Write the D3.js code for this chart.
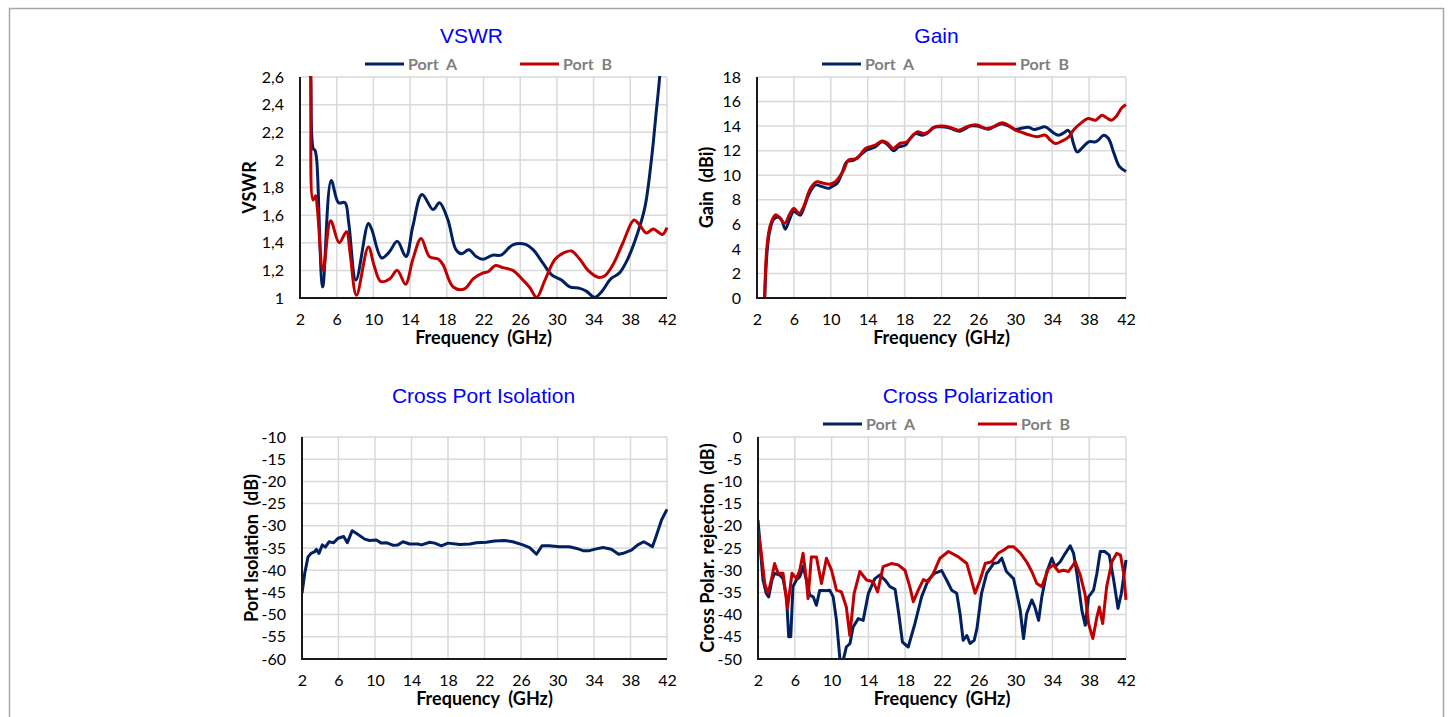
<!DOCTYPE html>
<html>
<head>
<meta charset="utf-8">
<script src="https://cdn.jsdelivr.net/npm/d3@7"></script>
<style>
  body { margin: 0; background: #fff; }
  svg text { white-space: pre; }
</style>
</head>
<body>
<div id="chart"></div>
<script>
/* Antenna measurement charts - VSWR, Gain, Isolation, Cross-pol */

// --- data, [frequency GHz, value] ---
var freqTicks = [2, 6, 10, 14, 18, 22, 26, 30, 34, 38, 42];
var vswrTicks = [1, 1.2, 1.4, 1.6, 1.8, 2, 2.2, 2.4, 2.6];
var gainTicks = [0, 2, 4, 6, 8, 10, 12, 14, 16, 18];
var isoTicks = [-60, -55, -50, -45, -40, -35, -30, -25, -20, -15, -10];
var xpolTicks = [-50, -45, -40, -35, -30, -25, -20, -15, -10, -5, 0];
var legendNames = ["Port  A", "Port  B"];

var vswrPortA = [
  [2.9, 3.4], [3.17, 2.6], [3.45, 2.08], [3.63, 2.07], [3.82, 2.0], [4.47, 1.08],
  [5.4, 1.85], [6.2, 1.69], [6.9, 1.69], [7.3, 1.55], [8.1, 1.13], [9.45, 1.54],
  [9.8, 1.5], [10.9, 1.29], [11.7, 1.33], [12.6, 1.41], [13.55, 1.3], [14.3, 1.52],
  [15.3, 1.75], [16.5, 1.64], [17.2, 1.69], [18.1, 1.57], [19.0, 1.35], [19.6, 1.32],
  [20.4, 1.35], [21.2, 1.3], [21.9, 1.28], [23.0, 1.31], [23.9, 1.31], [25.2, 1.385],
  [26.5, 1.39], [27.4, 1.35], [28.5, 1.25], [29.4, 1.17], [30.5, 1.13], [31.4, 1.08],
  [32.5, 1.07], [33.2, 1.05], [34.1, 1.005], [34.8, 1.04], [35.9, 1.14], [36.8, 1.18],
  [37.7, 1.28], [38.7, 1.45], [39.6, 1.66], [40.3, 2.0], [40.8, 2.33], [41.2, 2.6],
  [41.5, 2.9]
];
var vswrPortB = [
  [2.9, 3.4], [3.17, 2.6], [3.42, 1.71], [3.7, 1.74], [3.9, 1.64], [4.52, 1.2],
  [5.34, 1.56], [6.27, 1.4], [7.07, 1.48], [7.45, 1.33], [8.15, 1.02], [9.45, 1.37],
  [10.1, 1.23], [10.8, 1.12], [11.8, 1.14], [12.6, 1.2], [13.5, 1.1], [14.3, 1.28],
  [15.2, 1.43], [16.1, 1.3], [17.1, 1.28], [17.6, 1.24], [18.7, 1.08], [19.9, 1.065],
  [20.9, 1.14], [21.9, 1.18], [22.5, 1.19], [23.3, 1.235], [24.1, 1.22], [25.2, 1.2],
  [26.3, 1.13], [27.0, 1.08], [27.8, 1.005], [28.7, 1.13], [29.8, 1.28], [30.85, 1.33],
  [31.6, 1.34], [32.5, 1.28], [33.4, 1.2], [34.5, 1.15], [35.2, 1.16], [36.1, 1.24],
  [37.2, 1.4], [38.4, 1.565], [39.0, 1.53], [39.75, 1.47], [40.5, 1.5], [41.0, 1.48],
  [41.5, 1.46], [42.0, 1.51]
];

var gainPortA = [
  [2.83, 0], [3.08, 3.65], [3.34, 5.3], [3.8, 6.4], [4.28, 6.6], [4.64, 6.4],
  [5.07, 5.6], [5.5, 6.35], [5.97, 7.05], [6.34, 6.9], [6.7, 6.75], [7.06, 7.3],
  [7.6, 8.4], [8.32, 9.2], [9.05, 9.07], [9.77, 8.93], [10.1, 9.07], [10.7, 9.35],
  [11.2, 10.15], [11.75, 11.1], [12.5, 11.23], [13.2, 11.64], [13.9, 12.05], [14.8, 12.3],
  [15.55, 12.72], [16.1, 12.53], [16.8, 12.0], [17.35, 12.3], [18.1, 12.45], [18.6, 13.0],
  [19.2, 13.4], [19.9, 13.26], [20.4, 13.4], [21.15, 13.9], [21.9, 13.94], [22.8, 13.86],
  [23.5, 13.67], [24.0, 13.59], [24.6, 13.8], [25.1, 14.0], [25.85, 14.0], [26.4, 13.9],
  [27.1, 13.75], [27.65, 13.94], [28.55, 14.2], [29.3, 14.0], [30.0, 13.73], [30.55, 13.8],
  [31.45, 13.9], [32.0, 13.73], [32.5, 13.8], [33.25, 13.94], [34.0, 13.53], [34.7, 13.26],
  [35.25, 13.45], [35.7, 13.67], [36.0, 13.4], [36.3, 12.59], [36.7, 11.9], [37.2, 12.18],
  [37.95, 12.72], [38.7, 12.72], [39.0, 12.86], [39.6, 13.26], [40.1, 12.99], [40.7, 11.78],
  [41.3, 10.7], [42.0, 10.3]
];
var gainPortB = [
  [2.83, 0], [3.08, 4.2], [3.45, 5.95], [4.0, 6.77], [4.35, 6.63], [5.0, 6.09],
  [5.5, 6.77], [5.97, 7.3], [6.6, 6.9], [7.06, 7.44], [7.8, 8.93], [8.5, 9.47],
  [9.2, 9.34], [9.95, 9.28], [10.5, 9.47], [11.4, 10.42], [11.9, 11.23], [12.85, 11.37],
  [13.75, 12.18], [14.8, 12.45], [15.55, 12.78], [16.1, 12.64], [16.75, 12.18], [17.5, 12.59],
  [18.25, 12.72], [18.8, 13.13], [19.35, 13.53], [20.1, 13.4], [20.6, 13.53], [21.3, 13.94],
  [22.05, 14.0], [22.95, 13.9], [23.85, 13.67], [24.6, 13.9], [25.3, 14.08], [25.95, 14.08],
  [26.75, 13.8], [27.5, 13.9], [28.55, 14.27], [29.5, 13.94], [30.0, 13.67], [30.55, 13.53],
  [31.45, 13.3], [32.35, 13.13], [33.25, 13.26], [33.8, 12.86], [34.35, 12.59], [35.05, 12.78],
  [35.8, 13.13], [36.3, 13.67], [37.05, 14.2], [37.9, 14.62], [38.7, 14.48], [39.4, 14.89],
  [39.85, 14.7], [40.4, 14.48], [40.9, 14.75], [41.55, 15.5], [42.0, 15.75]
];

var isolation = [
  [2.0, -45.2], [2.3, -40.7], [2.66, -37.0], [3.0, -36.2], [3.4, -35.8], [3.57, -35.3],
  [3.86, -36.2], [4.23, -34.3], [4.56, -34.8], [4.96, -33.6], [5.47, -33.8], [5.95, -32.8],
  [6.57, -32.4], [6.97, -33.8], [7.5, -31.1], [7.95, -31.7], [8.87, -33.0], [9.4, -33.3],
  [10.15, -33.2], [10.7, -33.9], [11.25, -33.8], [12.0, -34.4], [12.5, -34.3], [13.07, -33.6],
  [13.8, -34.1], [14.7, -34.1], [15.1, -34.3], [16.0, -33.7], [16.54, -33.9], [17.27, -34.5],
  [18.0, -33.9], [19.3, -34.2], [20.4, -34.1], [21.1, -33.8], [22.2, -33.7], [23.1, -33.4],
  [24.2, -33.3], [25.1, -33.6], [26.2, -34.3], [26.95, -34.9], [27.7, -36.4], [28.3, -34.5],
  [29.1, -34.5], [30.2, -34.7], [31.3, -34.7], [32.1, -35.1], [32.8, -35.6], [33.5, -35.6],
  [34.25, -35.2], [35.0, -34.9], [35.9, -35.3], [36.7, -36.4], [37.2, -36.2], [38.1, -35.5],
  [38.8, -34.3], [39.45, -33.6], [39.9, -34.1], [40.4, -34.7], [40.8, -32.4], [41.4, -28.7],
  [42.0, -26.3]
];

var xpolPortA = [
  [2.0, -18.7], [2.18, -23.2], [2.54, -32.2], [2.9, -35.2], [3.16, -36.0], [3.52, -32.2],
  [3.8, -30.7], [4.36, -31.1], [4.72, -31.9], [5.1, -36.0], [5.34, -45.0], [5.56, -45.0],
  [5.8, -33.7], [6.17, -32.2], [6.54, -31.5], [6.9, -29.2], [7.26, -32.2], [7.63, -35.6],
  [8.0, -36.0], [8.35, -37.9], [8.7, -34.6], [9.26, -34.6], [9.8, -34.5], [10.17, -36.0],
  [10.53, -41.3], [10.9, -49.9], [11.26, -50.3], [11.6, -47.3], [12.0, -46.5], [12.34, -42.8],
  [12.9, -40.9], [13.43, -41.3], [14.0, -35.2], [14.7, -31.9], [15.25, -31.1], [15.8, -32.2],
  [16.34, -33.7], [16.9, -34.3], [17.3, -39.8], [17.7, -46.2], [18.33, -47.3], [19.06, -42.0],
  [19.78, -36.0], [20.5, -32.2], [21.2, -30.7], [21.96, -30.1], [22.5, -32.2], [23.05, -34.5],
  [23.6, -35.2], [23.96, -39.8], [24.3, -45.8], [24.7, -44.7], [25.05, -46.5], [25.5, -45.8],
  [25.8, -43.1], [26.3, -35.2], [26.86, -30.7], [27.6, -28.5], [28.1, -28.3], [28.5, -27.3],
  [29.0, -30.3], [29.77, -31.9], [30.13, -35.2], [30.5, -39.0], [30.86, -45.4], [31.2, -39.8],
  [31.76, -36.7], [32.1, -38.3], [32.5, -41.3], [32.85, -36.0], [33.4, -30.3], [33.94, -27.3],
  [34.3, -29.2], [34.85, -28.1], [35.4, -26.2], [35.94, -24.5], [36.3, -26.2], [36.66, -30.7],
  [37.2, -39.0], [37.57, -42.4], [37.93, -36.0], [38.47, -34.5], [38.84, -30.7], [39.2, -25.8],
  [39.68, -25.8], [40.18, -26.6], [40.66, -32.2], [41.13, -38.6], [41.5, -35.2], [42.0, -27.7]
];
var xpolPortB = [
  [2.0, -20.9], [2.36, -26.2], [2.73, -33.0], [3.09, -35.2], [3.45, -32.2], [3.8, -28.5],
  [4.18, -30.7], [4.72, -30.7], [5.2, -38.6], [5.7, -30.7], [6.17, -31.9], [6.54, -30.0],
  [6.9, -26.2], [7.26, -32.2], [7.44, -36.4], [7.8, -27.0], [8.35, -27.0], [8.9, -33.0],
  [9.44, -27.3], [9.99, -30.0], [10.53, -34.5], [11.07, -34.9], [11.6, -38.3], [11.98, -44.7],
  [12.45, -35.2], [13.07, -30.3], [13.8, -32.2], [14.52, -32.6], [15.0, -34.9], [15.6, -29.2],
  [16.5, -28.5], [17.24, -28.8], [17.97, -30.0], [18.5, -33.7], [18.88, -37.1], [19.42, -34.5],
  [19.97, -32.1], [20.5, -32.6], [21.06, -30.7], [21.78, -27.3], [22.7, -25.8], [23.78, -27.0],
  [24.7, -28.5], [25.2, -32.2], [25.6, -35.2], [26.14, -32.2], [26.7, -28.5], [27.4, -28.1],
  [28.1, -26.2], [28.68, -25.5], [29.22, -24.7], [29.77, -24.7], [30.5, -26.1], [31.2, -28.1],
  [31.76, -30.3], [32.3, -33.0], [32.85, -33.7], [33.58, -29.6], [34.12, -28.8], [34.67, -30.3],
  [35.2, -30.0], [35.76, -30.3], [36.48, -28.1], [37.03, -31.1], [37.57, -35.6], [37.93, -42.0],
  [38.4, -45.4], [38.84, -40.5], [39.1, -38.3], [39.46, -42.0], [39.9, -33.7], [40.47, -28.1],
  [41.0, -26.2], [41.4, -26.6], [41.75, -30.7], [42.0, -36.7]
];

var colorA = "#002060";
var colorB = "#c00000";

// comma decimals like the original spreadsheet
var euro = d3.formatLocale({ decimal: ",", thousands: ".", grouping: [3], currency: ["", ""], minus: "-" });
var fmt = euro.format("~g");

var W = 1453, H = 717;
var svg = d3.select("#chart").append("svg")
  .attr("width", W)
  .attr("height", H);

// outer frame
svg.append("path")
  .attr("d", "M9.5," + H + "V8.5H1443.5V" + H)
  .attr("fill", "none")
  .attr("stroke", "#a6a6a6")
  .attr("stroke-width", 1.5);

var smooth = d3.curveCatmullRom.alpha(0.5);

var charts = [
  { id: "vswr", left: 300, right: 667, top: 77, bottom: 298, title: "VSWR", titleDx: -12,
    yLabel: "VSWR", yDomain: [1, 2.6], yTicks: vswrTicks, legend: true, curve: smooth,
    series: [{ data: vswrPortA, color: colorA }, { data: vswrPortB, color: colorB }] },
  { id: "gain", left: 757, right: 1126, top: 77, bottom: 298, title: "Gain", titleDx: -5,
    yLabel: "Gain  (dBi)", yDomain: [0, 18], yTicks: gainTicks, legend: true, curve: smooth,
    series: [{ data: gainPortA, color: colorA }, { data: gainPortB, color: colorB }] },
  { id: "iso", left: 302, right: 667, top: 437, bottom: 659, title: "Cross Port Isolation", titleDx: -1,
    yLabel: "Port Isolation  (dB)", yDomain: [-60, -10], yTicks: isoTicks, legend: false, curve: d3.curveLinear,
    series: [{ data: isolation, color: colorA }] },
  { id: "xpol", left: 758, right: 1126, top: 437, bottom: 659, title: "Cross Polarization", titleDx: 26,
    yLabel: "Cross Polar. rejection  (dB)", yDomain: [-50, 0], yTicks: xpolTicks, legend: true, curve: d3.curveLinear,
    series: [{ data: xpolPortA, color: colorA }, { data: xpolPortB, color: colorB }] }
];

charts.forEach(function(c) {
  var x = d3.scaleLinear().domain([2, 42]).range([c.left, c.right]);
  var y = d3.scaleLinear().domain(c.yDomain).range([c.bottom, c.top]);
  var g = svg.append("g");

  // grid
  g.selectAll(".hgrid").data(c.yTicks).enter().append("line")
    .attr("x1", c.left).attr("x2", c.right)
    .attr("y1", function(d) { return y(d); }).attr("y2", function(d) { return y(d); })
    .attr("stroke", "#d9d9d9").attr("stroke-width", 1.5);
  g.selectAll(".vgrid").data(freqTicks).enter().append("line")
    .attr("x1", function(d) { return x(d); }).attr("x2", function(d) { return x(d); })
    .attr("y1", c.top).attr("y2", c.bottom)
    .attr("stroke", "#d9d9d9").attr("stroke-width", 1.5);

  // axes (labels only, lines drawn below)
  var ya = g.append("g")
    .attr("transform", "translate(" + c.left + ",0)")
    .call(d3.axisLeft(y).tickValues(c.yTicks).tickSize(0).tickPadding(16).tickFormat(fmt));
  var xa = g.append("g")
    .attr("transform", "translate(0," + c.bottom + ")")
    .call(d3.axisBottom(x).tickValues(freqTicks).tickSize(0).tickPadding(16).tickFormat(fmt));
  [ya, xa].forEach(function(a) {
    a.select(".domain").remove();
    a.attr("font-family", "Lato, 'Open Sans', sans-serif").attr("font-size", 16);
    a.selectAll("text").attr("fill", "#000");
  });

  // series, clipped to the plot
  var clipId = "clip-" + c.id;
  svg.append("clipPath").attr("id", clipId).append("rect")
    .attr("x", c.left).attr("y", c.top - 1)
    .attr("width", c.right - c.left + 2).attr("height", c.bottom - c.top + 1);

  var line = d3.line()
    .x(function(d) { return x(d[0]); })
    .y(function(d) { return y(d[1]); })
    .curve(c.curve);
  g.append("g").attr("clip-path", "url(#" + clipId + ")")
    .selectAll("path").data(c.series).enter().append("path")
    .attr("d", function(s) { return line(s.data); })
    .attr("fill", "none")
    .attr("stroke", function(s) { return s.color; })
    .attr("stroke-width", 3)
    .attr("stroke-linejoin", "round");

  // axis lines
  g.append("path")
    .attr("d", "M" + c.left + "," + c.top + "V" + c.bottom + "H" + c.right)
    .attr("fill", "none").attr("stroke", "#1a1a1a").attr("stroke-width", 2);

  // title
  g.append("text")
    .attr("x", (c.left + c.right) / 2 + c.titleDx)
    .attr("y", c.top - 41)
    .attr("dy", "0.35em")
    .attr("text-anchor", "middle")
    .attr("font-family", "'Liberation Sans', Arial, sans-serif")
    .attr("font-size", 21)
    .attr("fill", "#0000ff")
    .text(c.title);

  // axis titles
  g.append("text")
    .attr("transform", "translate(" + (c.left - 50) + "," + ((c.top + c.bottom) / 2) + ") rotate(-90)")
    .attr("dy", "0.35em")
    .attr("text-anchor", "middle")
    .attr("font-family", "Lato, 'Open Sans', sans-serif")
    .attr("font-weight", "bold")
    .attr("font-size", 18)
    .text(c.yLabel);
  g.append("text")
    .attr("x", (c.left + c.right) / 2)
    .attr("y", c.bottom + 40)
    .attr("dy", "0.35em")
    .attr("text-anchor", "middle")
    .attr("font-family", "Lato, 'Open Sans', sans-serif")
    .attr("font-weight", "bold")
    .attr("font-size", 18)
    .text("Frequency  (GHz)");

  // legend
  if (c.legend) {
    var lg = g.append("g").attr("transform", "translate(" + c.left + "," + (c.top - 13) + ")");
    var items = lg.selectAll("g").data(c.series).enter().append("g")
      .attr("transform", function(s, i) { return "translate(" + (i === 0 ? 65 : 220) + ",0)"; });
    items.append("line")
      .attr("x1", 0).attr("x2", 39)
      .attr("stroke", function(s) { return s.color; })
      .attr("stroke-width", 3);
    items.append("text")
      .attr("x", 43)
      .attr("dy", "0.35em")
      .attr("font-family", "Lato, 'Open Sans', sans-serif")
      .attr("font-weight", "bold")
      .attr("font-size", 16)
      .attr("fill", "#7f7f7f")
      .text(function(s, i) { return legendNames[i]; });
  }
});
</script>
</body>
</html>
